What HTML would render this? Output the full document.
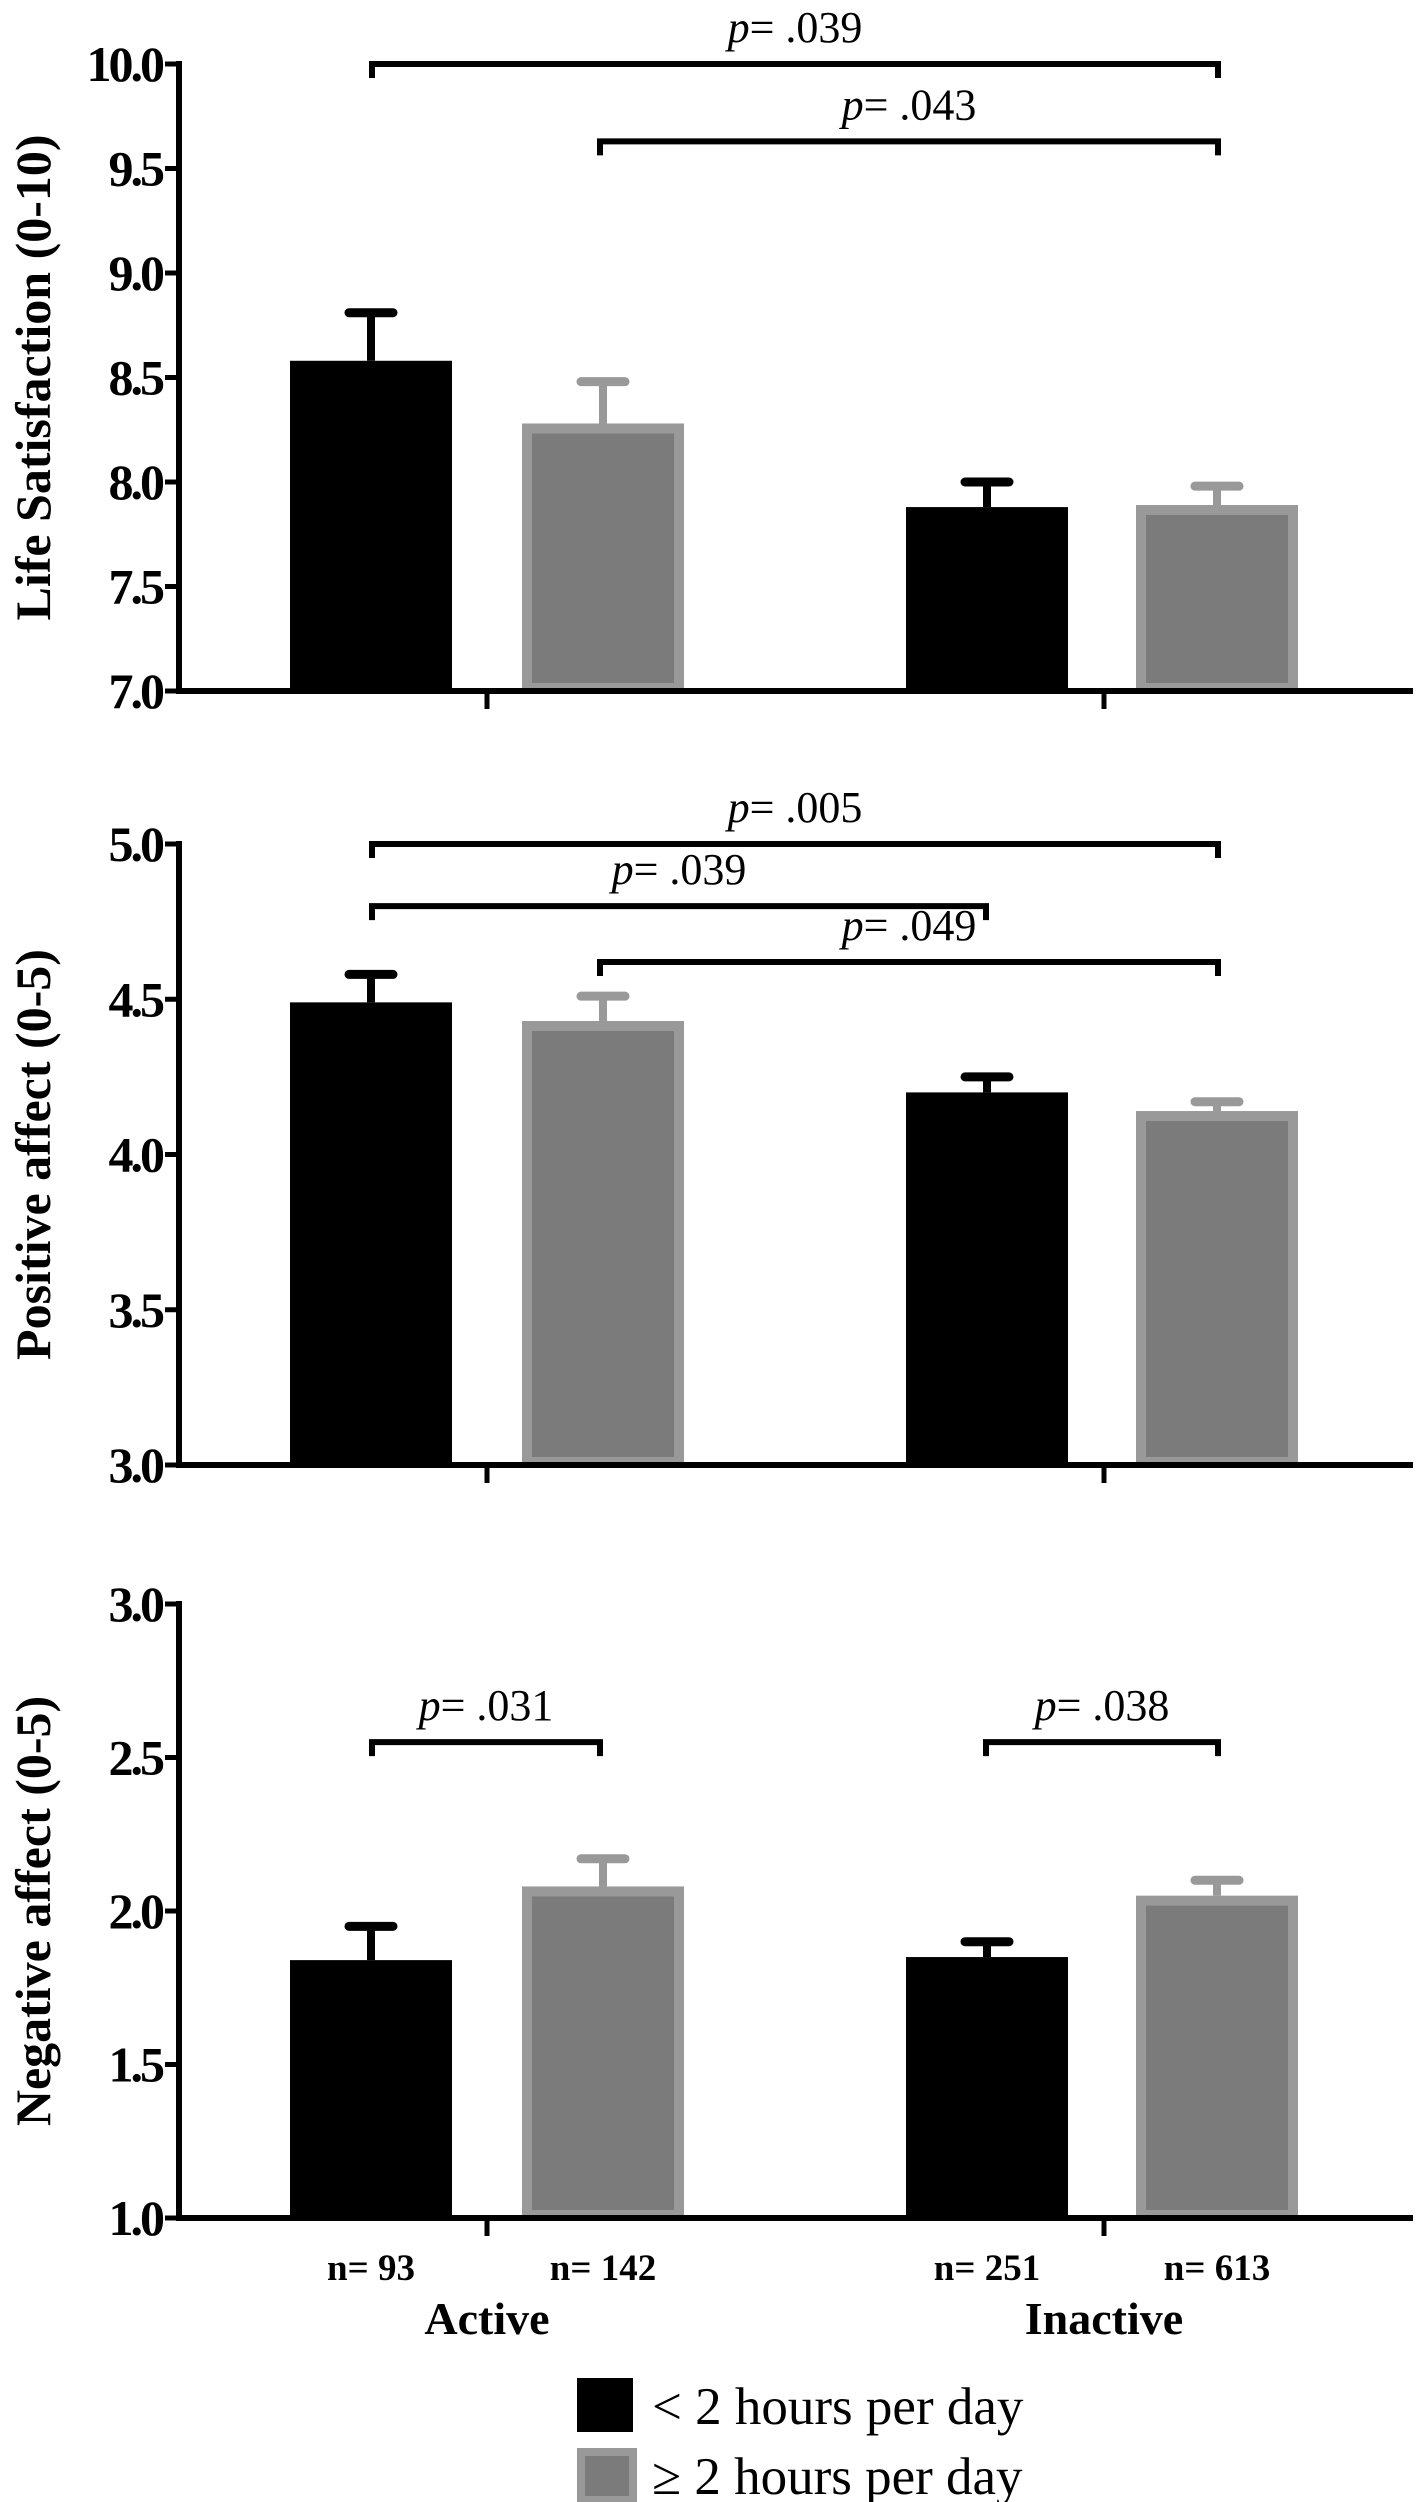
<!DOCTYPE html>
<html><head><meta charset="utf-8"><style>
html,body{margin:0;padding:0;background:#fff}
svg{display:block}
text{font-family:"Liberation Serif",serif}
</style></head><body>
<svg id="chart" width="1417" height="2502" viewBox="0 0 1417 2502"></svg>
<script>
const categories = ["Active","Inactive"];
const nLabels = ["n= 93","n= 142","n= 251","n= 613"];
const seriesNames = ["< 2 hours per day","\u2265 2 hours per day"];
const lsMeans = [8.58, 8.28, 7.88, 7.89];
const lsErr = [8.81, 8.48, 8.00, 7.98];
const paMeans = [4.49, 4.43, 4.20, 4.14];
const paErr = [4.58, 4.51, 4.25, 4.17];
const naMeans = [1.84, 2.08, 1.85, 2.05];
const naErr = [1.95, 2.17, 1.90, 2.10];
const lsTicks = [7.0,7.5,8.0,8.5,9.0,9.5,10.0];
const paTicks = [3.0,3.5,4.0,4.5,5.0];
const naTicks = [1.0,1.5,2.0,2.5,3.0];
const lsBrackets = [{a:0,b:3,y:10.0,t:".039"},{a:1,b:3,y:9.63,t:".043"}];
const paBrackets = [{a:0,b:3,y:5.0,t:".005"},{a:0,b:2,y:4.80,t:".039"},{a:1,b:3,y:4.62,t:".049"}];
const naBrackets = [{a:0,b:1,y:2.55,t:".031"},{a:2,b:3,y:2.55,t:".038"}];

const NS="http://www.w3.org/2000/svg";
const svg=document.getElementById('chart');
function mk(tag,attrs,parent){const e=document.createElementNS(NS,tag);for(const k in attrs)e.setAttribute(k,attrs[k]);(parent||svg).appendChild(e);return e;}
const barLeft=[290,522,906,1136], barW=162;
const barCenters=barLeft.map(x=>x+barW/2);
const bracketX=[372,600,986,1218];

function panel(name,title,ticks,means,errs,brackets,top,bottom,decimals){
  const g=mk('g',{});
  
  
  const lo=ticks[0],hi=ticks[ticks.length-1];
  const y=v=>bottom-(v-lo)/(hi-lo)*(bottom-top);
  means.forEach((m,i)=>{
    const gray=i%2===1;
    const cx=barCenters[i];
    const el=mk('line',{x1:cx,x2:cx,y1:y(m),y2:y(errs[i]),stroke:gray?'#999':'#000','stroke-width':8},g);
    
    
    const cap=mk('line',{x1:cx-22,x2:cx+22,y1:y(errs[i]),y2:y(errs[i]),stroke:gray?'#999':'#000','stroke-width':9,'stroke-linecap':'round'},g);
    
    
    const r=mk('rect',{x:barLeft[i]+(gray?5:0),y:y(m)+(gray?5:0),width:barW-(gray?10:0),height:bottom-y(m)-(gray?8:0),fill:gray?'#7b7b7b':'#000',stroke:gray?'#999':'none','stroke-width':gray?10:0},g);
    
    
  });
  const ya=mk('line',{x1:179,x2:179,y1:top-3,y2:bottom+3,stroke:'#000','stroke-width':6},g);
  
  
  const xa=mk('line',{x1:176,x2:1413,y1:bottom,y2:bottom,stroke:'#000','stroke-width':6},g);
  
  
  [487,1104].forEach(x=>{const t=mk('line',{x1:x,x2:x,y1:bottom,y2:bottom+18,stroke:'#000','stroke-width':5},g);
    
    });
  ticks.forEach(v=>{
    const tk=mk('line',{x1:165,x2:179,y1:y(v),y2:y(v),stroke:'#000','stroke-width':5},g);
    
    
    const tl=mk('text',{x:162,y:y(v)+17,'text-anchor':'end','font-size':50,'font-weight':'bold','letter-spacing':'-3'},g);
    tl.textContent=v.toFixed(decimals);
    
    
  });
  const cy=(top+bottom)/2;
  const yt=mk('text',{x:0,y:0,transform:`translate(50,${cy}) rotate(-90)`,'text-anchor':'middle','font-size':50,'font-weight':'bold'},g);
  yt.textContent=title;
  
  
  brackets.forEach(b=>{
    const x1=bracketX[b.a],x2=bracketX[b.b],yy=y(b.y);
    const p=mk('path',{d:`M${x1},${yy+14}V${yy}H${x2}V${yy+14}`,fill:'none',stroke:'#000','stroke-width':6},g);
    
    
    const t=mk('text',{x:(x1+x2)/2,y:yy-22,'text-anchor':'middle','font-size':44},g);
    t.innerHTML='<tspan font-style="italic">p</tspan>= '+b.t;
    
    
  });
}
panel('life-satisfaction-panel','Life Satisfaction (0-10)',lsTicks,lsMeans,lsErr,lsBrackets,64,691,1);
panel('positive-affect-panel','Positive affect (0-5)',paTicks,paMeans,paErr,paBrackets,844,1465,1);
panel('negative-affect-panel','Negative  affect (0-5)',naTicks,naMeans,naErr,naBrackets,1604,2218,1);

nLabels.forEach((s,i)=>{
  const t=mk('text',{x:barCenters[i],y:2280,'text-anchor':'middle','font-size':37,'font-weight':'bold'});
  t.textContent=s;
  
  
});
categories.forEach((c,i)=>{
  const t=mk('text',{x:[487,1104][i],y:2334,'text-anchor':'middle','font-size':46,'font-weight':'bold'});
  t.textContent=c;
  
  
});
const lg=mk('g',{});


seriesNames.forEach((s,i)=>{
  const yy=2378+i*70;
  const r=mk('rect',{x:i?581:577,y:i?yy+4:yy,width:i?52:56,height:i?48:54,fill:i?'#7b7b7b':'#000',stroke:i?'#999':'none','stroke-width':i?8:0},lg);
  
  
  const t=mk('text',{x:652,y:yy+46,'font-size':53},lg);
  t.textContent=s;
  
  
});
</script>
</body></html>
